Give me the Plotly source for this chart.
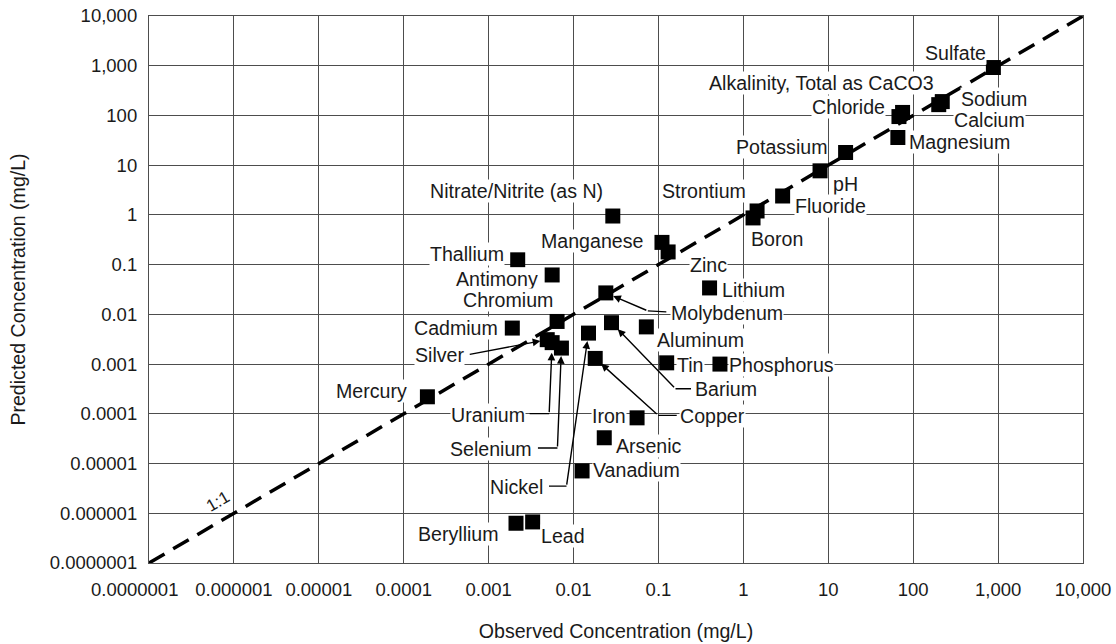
import math
import plotly.graph_objects as go

# Observed vs. predicted concentrations (mg/L)
analytes = [
    "Sulfate", "Alkalinity, Total as CaCO3", "Chloride", "Sodium", "Calcium",
    "Magnesium", "Potassium", "pH", "Fluoride", "Strontium", "Boron",
    "Nitrate/Nitrite (as N)", "Manganese", "Zinc", "Thallium", "Antimony",
    "Lithium", "Molybdenum", "Chromium", "Cadmium", "Barium", "Aluminum",
    "Nickel", "Silver", "Uranium", "Selenium", "Copper", "Tin", "Phosphorus",
    "Mercury", "Iron", "Arsenic", "Vanadium", "Beryllium", "Lead",
]
observed = [
    880, 75, 68, 220, 200,
    66, 16, 8.0, 2.9, 1.45, 1.3,
    0.029, 0.11, 0.13, 0.0022, 0.0056,
    0.40, 0.024, 0.0064, 0.0019, 0.028, 0.072,
    0.015, 0.0049, 0.0056, 0.0072, 0.018, 0.125, 0.53,
    0.00019, 0.056, 0.023, 0.0126, 0.0021, 0.0033,
]
predicted = [
    920, 115, 95, 190, 165,
    36, 18, 7.7, 2.4, 1.2, 0.87,
    0.95, 0.28, 0.18, 0.125, 0.062,
    0.034, 0.027, 0.0072, 0.0053, 0.0068, 0.0056,
    0.0042, 0.0031, 0.0027, 0.0021, 0.0013, 0.00106, 0.001,
    0.00022, 0.000083, 0.000033, 0.0000071, 6.3e-7, 6.7e-7,
]

tick_values = [1e-7, 1e-6, 1e-5, 1e-4, 1e-3, 1e-2, 1e-1, 1, 10, 100, 1000, 10000]
tick_labels = ["0.0000001", "0.000001", "0.00001", "0.0001", "0.001", "0.01",
               "0.1", "1", "10", "100", "1,000", "10,000"]
# the first x label is set separately, nudged left so it clears its neighbour
x_tick_labels = [""] + tick_labels[1:]

# Label placement: pixel offset of the label centre from its point (dx right, dy down)
label_offsets = {
    "Sulfate": (-38, -15), "Alkalinity, Total as CaCO3": (-81, -29),
    "Chloride": (-50, -10), "Sodium": (52, -3), "Calcium": (51, 15),
    "Magnesium": (62, 4), "Potassium": (-64, -5), "pH": (25, 13),
    "Fluoride": (48, 10), "Strontium": (-53, -20), "Boron": (24, 21),
    "Nitrate/Nitrite (as N)": (-96, -25), "Manganese": (-69, -1),
    "Zinc": (40, 13), "Thallium": (-51, -6), "Antimony": (-55, 4),
    "Lithium": (44, 2), "Chromium": (-49, -21), "Cadmium": (-56, 0),
    "Aluminum": (54, 13), "Tin": (24, 2), "Phosphorus": (62, 1),
    "Mercury": (-56, -6), "Iron": (-28, -2), "Arsenic": (45, 8),
    "Vanadium": (54, -1), "Beryllium": (-58, 11), "Lead": (30, 14),
}
# Labels with leader lines: label centre, leader tail, elbow (pixels from point), standoff
leader_labels = {
    "Silver": ((-108, 15), (-79, 15), (-79, 15), 7),
    "Uranium": ((-64, 72), (-24, 71), (-3, 71), 10),
    "Selenium": ((-70, 101), (-25, 100), (-4, 100), 8),
    "Nickel": ((-72, 154), (-41, 153), (-22, 153), 8),
    "Copper": ((117, 58), (83, 57), (63, 57), 8),
    "Barium": ((114, 66), (81, 66), (64, 66), 9),
    "Molybdenum": ((121, 20), (62, 19), (42, 18), 8),
}

FONT = "Liberation Sans, Arial, sans-serif"
TEXT_COLOR = "#1a1a1a"
GRID = "#4d4d4d"
LABEL_SIZE = 19.6
TICK_SIZE = 18.5

fig = go.Figure()

# 1:1 reference line across the full range
fig.add_trace(go.Scatter(
    x=[tick_values[0], tick_values[-1]], y=[tick_values[0], tick_values[-1]],
    mode="lines", line=dict(color="black", width=3.5, dash="18px,10px"),
    hoverinfo="skip", showlegend=False,
))

fig.add_trace(go.Scatter(
    x=observed, y=predicted, mode="markers", text=analytes,
    marker=dict(symbol="square", size=15, color="black"),
    hovertemplate="%{text}<br>Observed: %{x}<br>Predicted: %{y}<extra></extra>",
    showlegend=False,
))

annotations = []
for name, xo, yo in zip(analytes, observed, predicted):
    lx, ly = math.log10(xo), math.log10(yo)
    if name in label_offsets:
        dx, dy = label_offsets[name]
        annotations.append(dict(
            x=lx, y=ly, xref="x", yref="y", text=name, showarrow=False,
            xshift=dx, yshift=-dy, xanchor="center", yanchor="middle",
            bgcolor="white", borderpad=0,
            font=dict(family=FONT, size=LABEL_SIZE, color=TEXT_COLOR),
        ))
    elif name in leader_labels:
        (cx, cy), (tx, ty), (ex, ey), stand = leader_labels[name]
        # arrow from elbow to the point
        annotations.append(dict(
            x=lx, y=ly, xref="x", yref="y", text="", showarrow=True,
            ax=ex, ay=ey, axref="pixel", ayref="pixel",
            arrowhead=2, arrowsize=1.1, arrowwidth=1.4, arrowcolor="black",
            standoff=stand,
        ))
        # short horizontal run from the label to the elbow
        if (tx, ty) != (ex, ey):
            annotations.append(dict(
                x=lx, y=ly, xref="x", yref="y", text="", showarrow=True,
                xshift=ex, yshift=-ey, ax=tx - ex, ay=ty - ey,
                arrowhead=0, arrowwidth=1.4, arrowcolor="black", standoff=0,
            ))
        annotations.append(dict(
            x=lx, y=ly, xref="x", yref="y", text=name, showarrow=False,
            xshift=cx, yshift=-cy, xanchor="center", yanchor="middle",
            bgcolor="white", borderpad=0,
            font=dict(family=FONT, size=LABEL_SIZE, color=TEXT_COLOR),
        ))

# "1:1" tag along the reference line
annotations.append(dict(
    x=-6, y=-6, xref="x", yref="y", text="1:1", showarrow=False,
    xshift=-16, yshift=12, textangle=-30, xanchor="center", yanchor="middle",
    font=dict(family=FONT, size=17, color=TEXT_COLOR),
))

# lowest x tick label, shifted left of its gridline
annotations.append(dict(
    x=0, y=0, xref="paper", yref="paper", text=tick_labels[0], showarrow=False,
    xshift=-15, yshift=-26, xanchor="center", yanchor="middle",
    font=dict(family=FONT, size=TICK_SIZE, color=TEXT_COLOR),
))

axis_common = dict(
    type="log", tickvals=tick_values,
    showgrid=True, gridcolor=GRID, gridwidth=1.2,
    showline=True, linecolor=GRID, linewidth=1.2, mirror=True,
    ticks="outside", tickcolor="rgba(0,0,0,0)", zeroline=False, automargin=False,
    tickfont=dict(family=FONT, size=TICK_SIZE, color=TEXT_COLOR),
)

fig.update_layout(
    width=1116, height=644,
    margin=dict(l=149, r=33, t=16, b=81),
    paper_bgcolor="white", plot_bgcolor="white",
    font=dict(family=FONT, color=TEXT_COLOR),
    xaxis=dict(
        range=[-7, 4], ticktext=x_tick_labels, ticklen=10, tickangle=0,
        title=dict(text="Observed Concentration (mg/L)", standoff=24,
                   font=dict(family=FONT, size=LABEL_SIZE, color=TEXT_COLOR)),
        **axis_common,
    ),
    yaxis=dict(
        range=[-7, 4], ticktext=tick_labels, ticklen=7,
        title=dict(text="Predicted Concentration (mg/L)", standoff=18,
                   font=dict(family=FONT, size=LABEL_SIZE, color=TEXT_COLOR)),
        **axis_common,
    ),
    annotations=annotations,
)

fig.write_html("out.html")
